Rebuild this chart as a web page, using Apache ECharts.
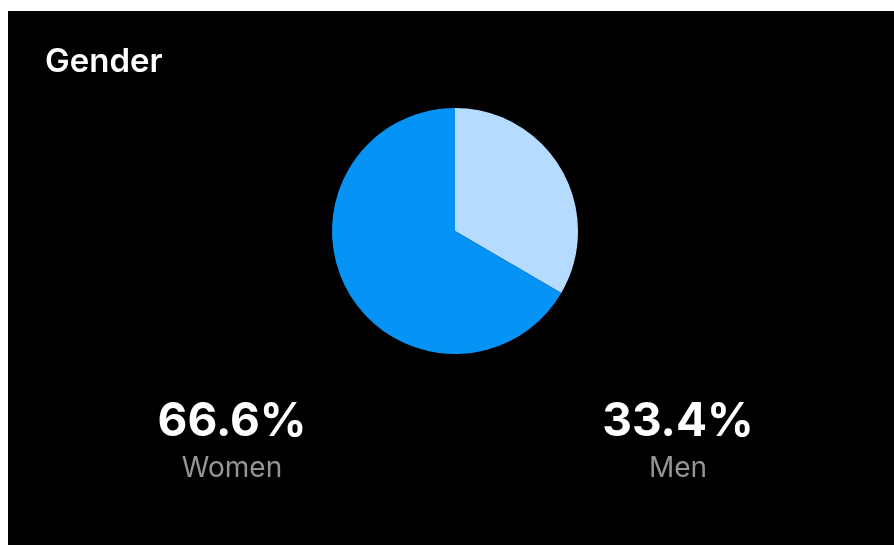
<!DOCTYPE html>
<html>
<head>
<meta charset="utf-8">
<script src="https://cdn.jsdelivr.net/npm/echarts@6/dist/echarts.min.js"></script>
<style>
html,body{margin:0;padding:0;background:#fff;width:894px;height:545px;overflow:hidden;}
#c{position:absolute;left:8px;top:11px;width:886px;height:534px;background:#000;}
</style>
</head>
<body>
<div id="c"></div>
<script>
var titleText = 'Gender';
var categories = ['Men', 'Women'];
var values = [33.4, 66.6];
var colors = ['#B5DBFF', '#0593F5'];
// label placement (centre x in chart px) for each category
var labelX = {Women: 224, Men: 670};

var chart = echarts.init(document.getElementById('c'), null, {renderer: 'canvas'});
var graphics = [];
categories.forEach(function (cat, i) {
  graphics.push({
    type: 'text',
    x: labelX[cat], y: 388,
    style: {text: values[i].toFixed(1) + '%', fill: '#fff', font: '700 46px Inter', textAlign: 'center'}
  });
  graphics.push({
    type: 'text',
    x: labelX[cat], y: 444,
    style: {text: cat, fill: '#959595', font: '400 28px Inter', textAlign: 'center'}
  });
});

chart.setOption({
  backgroundColor: '#000',
  animation: false,
  title: {
    text: titleText, left: 32, top: 30,
    textStyle: {color: '#fff', fontFamily: 'Inter', fontWeight: 600, fontSize: 33}
  },
  graphic: graphics,
  series: [{
    type: 'pie',
    center: [447, 220],
    radius: [0, 123],
    startAngle: 90,
    clockwise: true,
    label: {show: false},
    labelLine: {show: false},
    emphasis: {disabled: true},
    itemStyle: {borderWidth: 0},
    data: categories.map(function (c, i) {
      return {name: c, value: values[i], itemStyle: {color: colors[i]}};
    })
  }]
});
</script>
</body>
</html>
